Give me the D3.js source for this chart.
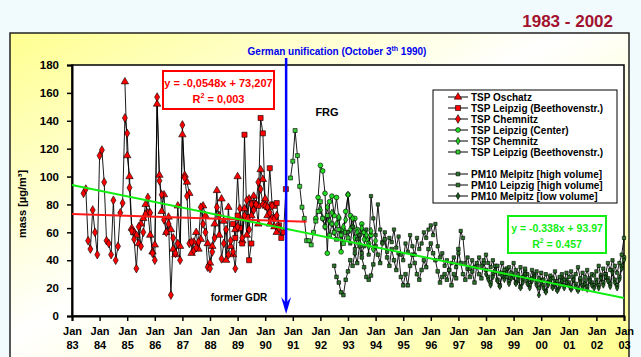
<!DOCTYPE html>
<html>
<head>
<meta charset="utf-8">
<script src="https://cdn.jsdelivr.net/npm/d3@7/dist/d3.min.js"></script>
<style>
  body { margin: 0; background: #f1fbfd; }
  svg { display: block; font-family: "Liberation Sans", Arial, sans-serif; font-weight: bold; }
</style>
</head>
<body>
<svg id="chart" width="641" height="357"></svg>
<script>
// ---- data (monthly means, µg/m³) ----
const xTickYears = ["83","84","85","86","87","88","89","90","91","92","93","94","95","96","97","98","99","00","01","02","03"];
const yTicks = [0, 20, 40, 60, 80, 100, 120, 140, 160, 180];

// former GDR
const tspOschatzStart = "1984-12";
const tspOschatz = [168,115,100,63,60,58,52,66,70,80, 74,58,46,51,152,101,75,87,60,71,
  62,48,44,79,50,130,101,96,88,45, 53,60,48,55,79,72,52,38,50,66,
  90,58,84,68,40,78,50,44,62,100, 70,54,77,58,84,72,86,80,66,105, 98,84,72,66,70,64,60];

const tspLeipzigGdrStart = "1988-11";
const tspLeipzigGdr = [66,56,72,63,52,130,71,40,52,81, 80,79,142,131,80,78,106,80,79,81, 65,56,60,91];

const tspChemnitzGdrStart = "1983-06";
const tspChemnitzGdr = [88,91,54,48,76,60,44,115,119,96, 54,52,44,83,40,50,74,81,142,131,
  92,61,55,34,64,50,60,73,85,74, 45,40,157,97,87,69,60,66,15,56,
  45,52,40,137,99,86,52,53,47,49, 53,78,66,60,35,34,46,56,78,72,
  41,52,62,44,54,46,34,64,77,56, 72,83,62,80,76,80,96,91,80,79, 78,74,79,70,72,63];

// FRG
const tspLeipzigCenterStart = "1991-11";
const tspLeipzigCenter = [70,85,108,104,88,45,82,86,72,85, 70,46,62,75,87,72,64,70,62,58, 66,60,55,52,58];

const tspChemnitzFrgStart = "1992-01";
const tspChemnitzFrg = [76,70,64,78,68,74,60,66,71,58, 64,69,87,62,70,56,60,52,63,55, 58,50,61,48,54];

const tspLeipzigFrgStart = "1990-12";
const tspLeipzigFrg = [99,111,133,115,93,78,70,54,54,51, 60,68,75,82,70,64,72,58,66,60, 55,62,58,52,60,56];

const pm10MelpitzHvStart = "1992-07";
const pm10MelpitzHv = [36,28,24,17,15,26,
  32,40,36,45,38,50,42,35,28,26,29,37,
  50,44,38,53,55,42,36,48,40,33,45,28,
  22,30,22,36,44,38,30,26,33,40,35,48,
  52,45,40,32,24,28,30,26,33,22,30,27,
  48,38,30,26,34,28,32,24,36,30,27,38,
  33,28,24,30,36,26,22,31,28,34,25,29,
  30,24,28,21,26,32,25,22,27,30,24,20,
  26,22,18,24,28,21,25,19,23,27,22,26,
  24,20,28,23,19,26,22,25,21,27,24,22,
  26,22,29,24,30,27,23,33,26,22,28,36,
  42];

const pm10LeipzigHvStart = "1993-01";
const pm10LeipzigHv = [60,52,64,48,55,58,45,50,62,44,86,70,
  58,80,62,52,60,46,56,53,62,49,57,44,
  40,52,46,58,50,44,56,48,52,60,56,62,
  65,58,66,50,42,45,36,40,33,38,42,35,
  45,61,56,38,42,34,40,35,38,42,36,40,
  44,38,35,40,32,36,30,38,33,28,35,31,
  38,33,30,35,28,34,30,26,33,29,32,27,
  31,26,30,24,29,27,32,25,28,30,26,31,
  28,32,26,30,35,27,31,28,33,26,30,29,
  32,36,28,34,30,38,33,40,36,31,38,44,
  56];

const pm10MelpitzLvStart = "1998-01";
const pm10MelpitzLv = [30,26,22,28,33,25,21,29,26,31,23,27,
  28,23,26,20,24,30,23,20,25,28,22,15,
  24,20,17,22,26,20,23,18,21,25,20,24,
  22,19,26,21,18,24,20,23,19,25,22,20,
  24,20,27,22,28,25,21,31,24,20,26,34,
  40];

// regression lines, x = month since Jan 1983
const gdrTrend = { slope: -0.0548, intercept: 73.207, from: 0, to: 102, label: "y = -0,0548x + 73,207", r2: "0,003" };
const allTrend = { slope: -0.338, intercept: 93.97, from: 0, to: 240, label: "y = -0.338x + 93.97", r2: "0.457" };
const unificationMonth = 93.1; // 3 Oct 1990

// ---- helpers ----
function monthIndex(s) {
  const [yy, mm] = s.split("-").map(Number);
  return (yy - 1983) * 12 + (mm - 1);
}
function points(start, values) {
  const m0 = monthIndex(start);
  return values.map((v, i) => ({ m: m0 + i, v: v }));
}

const series = [
  { name: "TSP Oschatz", data: points(tspOschatzStart, tspOschatz), type: d3.symbolTriangle, size: 24, fill: "#ff0000" },
  { name: "TSP Leipzig (Beethovenstr.)", data: points(tspLeipzigGdrStart, tspLeipzigGdr), type: d3.symbolSquare, size: 26, fill: "#ff0000" },
  { name: "TSP Chemnitz", data: points(tspChemnitzGdrStart, tspChemnitzGdr), type: d3.symbolDiamond, size: 22, fill: "#ff0000" },
  { name: "TSP Leipzig (Center)", data: points(tspLeipzigCenterStart, tspLeipzigCenter), type: d3.symbolCircle, size: 18, fill: "#22dd22" },
  { name: "TSP Chemnitz", data: points(tspChemnitzFrgStart, tspChemnitzFrg), type: d3.symbolDiamond, size: 16, fill: "#22cc22" },
  { name: "TSP Leipzig (Beethovenstr.)", data: points(tspLeipzigFrgStart, tspLeipzigFrg), type: d3.symbolSquare, size: 16, fill: "#33cc33" },
  { name: "PM10 Melpitz [high volume]", data: points(pm10MelpitzHvStart, pm10MelpitzHv), type: d3.symbolSquare, size: 13, fill: "#2a742a" },
  { name: "PM10 Leipzig [high volume]", data: points(pm10LeipzigHvStart, pm10LeipzigHv), type: d3.symbolSquare, size: 11, fill: "#2a742a" },
  { name: "PM10 Melpitz [low volume]", data: points(pm10MelpitzLvStart, pm10MelpitzLv), type: d3.symbolDiamond, size: 10, fill: "#1d5e1d" }
];

// ---- layout ----
const svg = d3.select("#chart");
const plot = { left: 72, right: 624, top: 65, bottom: 316 };

const x = d3.scaleLinear().domain([0, 240]).range([plot.left, plot.right]);
const y = d3.scaleLinear().domain([0, 180]).range([plot.bottom, plot.top]);

const defs = svg.append("defs");
const grad = defs.append("linearGradient").attr("id", "panelGrad")
  .attr("x1", 0).attr("y1", 0).attr("x2", 1).attr("y2", 1);
grad.append("stop").attr("offset", "0%").attr("stop-color", "#ffff90");
grad.append("stop").attr("offset", "45%").attr("stop-color", "#ffffff");
grad.append("stop").attr("offset", "100%").attr("stop-color", "#ffff8c");

svg.append("text")
  .attr("x", 613).attr("y", 27)
  .attr("text-anchor", "end")
  .attr("font-size", 17)
  .attr("fill", "#a3122e")
  .text("1983 - 2002");

svg.append("rect")
  .attr("x", 10).attr("y", 33).attr("width", 619).attr("height", 340)
  .attr("fill", "url(#panelGrad)")
  .attr("stroke", "#222").attr("stroke-width", 1.5);

svg.append("rect")
  .attr("x", plot.left).attr("y", plot.top)
  .attr("width", plot.right - plot.left).attr("height", plot.bottom - plot.top)
  .attr("fill", "#fff").attr("stroke", "#000").attr("stroke-width", 1.5);

// axes
const xAxis = svg.append("g")
  .attr("transform", "translate(0," + plot.bottom + ")")
  .call(d3.axisBottom(x).tickValues(d3.range(0, 241, 12)).tickSize(5).tickFormat(""));
xAxis.select(".domain").attr("stroke-width", 2);
xAxis.selectAll(".tick line").attr("stroke-width", 1.5);
xAxis.selectAll(".tick").append("text")
  .attr("fill", "#000").attr("font-size", 11).attr("text-anchor", "middle")
  .each(function (d, i) {
    const t = d3.select(this);
    t.append("tspan").attr("x", 0).attr("y", 19).text("Jan");
    t.append("tspan").attr("x", 0).attr("y", 33).text(xTickYears[i]);
  });

const yAxis = svg.append("g")
  .attr("transform", "translate(" + plot.left + ",0)")
  .call(d3.axisLeft(y).tickValues(yTicks).tickSize(5).tickPadding(8));
yAxis.select(".domain").attr("stroke-width", 2);
yAxis.selectAll(".tick line").attr("stroke-width", 1.5);
yAxis.selectAll("text").attr("font-size", 11.5).attr("fill", "#000")
  .attr("font-family", "Liberation Sans, Arial, sans-serif").attr("font-weight", "bold");
xAxis.selectAll("text").attr("font-family", "Liberation Sans, Arial, sans-serif").attr("font-weight", "bold");

svg.append("text")
  .attr("transform", "translate(26,204) rotate(-90)")
  .attr("text-anchor", "middle").attr("font-size", 11)
  .text("mass [µg/m³]");

// data lines and markers
const line = d3.line().x(d => x(d.m)).y(d => y(d.v));

series.forEach(s => {
  svg.append("path")
    .datum(s.data)
    .attr("fill", "none")
    .attr("stroke", "#000")
    .attr("stroke-width", 0.9)
    .attr("d", line);
});
series.forEach(s => {
  svg.selectAll(null)
    .data(s.data)
    .enter()
    .append("path")
    .attr("transform", d => "translate(" + x(d.m) + "," + y(d.v) + ")")
    .attr("d", d3.symbol().type(s.type).size(s.size))
    .attr("fill", s.fill)
    .attr("stroke", "#000")
    .attr("stroke-width", 0.6);
});

// trend lines
[[gdrTrend, "#ff1a1a"], [allTrend, "#11ee11"]].forEach(([t, c]) => {
  svg.append("path")
    .datum([t.from, t.to])
    .attr("fill", "none")
    .attr("stroke", c)
    .attr("stroke-width", 2)
    .attr("d", d3.line().x(m => x(m)).y(m => y(t.slope * m + t.intercept)));
});

// unification marker
const ux = x(unificationMonth);
svg.append("line")
  .attr("x1", ux).attr("x2", ux).attr("y1", 58).attr("y2", 306)
  .attr("stroke", "#0000ff").attr("stroke-width", 2.5);
svg.append("path")
  .attr("d", "M" + (ux - 5) + ",297 L" + ux + ",314 L" + (ux + 5) + ",297 L" + ux + ",303 Z")
  .attr("fill", "#0000ff");

const ut = svg.append("text")
  .attr("x", 337).attr("y", 55)
  .attr("text-anchor", "middle").attr("font-size", 10).attr("fill", "#0000ee");
ut.append("tspan").text("German unification (October 3");
ut.append("tspan").attr("font-size", 7).attr("dy", -4).text("th");
ut.append("tspan").attr("dy", 4).text(" 1990)");

svg.append("text").attr("x", 327).attr("y", 116)
  .attr("text-anchor", "middle").attr("font-size", 11).text("FRG");
svg.append("text").attr("x", 239).attr("y", 301)
  .attr("text-anchor", "middle").attr("font-size", 10).text("former GDR");

// equation boxes
function eqBox(t, bx, by, bw, bh, color, fs) {
  svg.append("rect")
    .attr("x", bx).attr("y", by).attr("width", bw).attr("height", bh)
    .attr("fill", "#fff").attr("stroke", color).attr("stroke-width", 2);
  svg.append("text").attr("x", bx + bw / 2).attr("y", by + 16)
    .attr("text-anchor", "middle").attr("font-size", fs).attr("fill", color).text(t.label);
  const r = svg.append("text").attr("x", bx + bw / 2).attr("y", by + 32)
    .attr("text-anchor", "middle").attr("font-size", fs).attr("fill", color);
  r.append("tspan").text("R");
  r.append("tspan").attr("font-size", fs * 0.65).attr("dy", -5).text("2");
  r.append("tspan").attr("dy", 5).text(" = " + t.r2);
}
eqBox(gdrTrend, 163, 71, 111, 38, "#ff0000", 11);
eqBox(allTrend, 508, 216, 98, 37, "#11ee11", 10.5);

// legend
const legend = svg.append("g");
legend.append("rect")
  .attr("x", 433).attr("y", 90).attr("width", 184).attr("height", 113)
  .attr("fill", "#fff").attr("stroke", "#000").attr("stroke-width", 1);
series.forEach((s, i) => {
  const ly = 97 + i * 11 + (i > 5 ? 11 : 0);
  legend.append("line").attr("x1", 448).attr("x2", 468).attr("y1", ly).attr("y2", ly)
    .attr("stroke", "#000").attr("stroke-width", 1);
  legend.append("path")
    .attr("transform", "translate(458," + ly + ")")
    .attr("d", d3.symbol().type(s.type).size(Math.max(s.size, 14)))
    .attr("fill", s.fill).attr("stroke", "#000").attr("stroke-width", 0.6);
  legend.append("text").attr("x", 471).attr("y", ly + 3.5)
    .attr("font-size", 10).text(s.name);
});
</script>
</body>
</html>
